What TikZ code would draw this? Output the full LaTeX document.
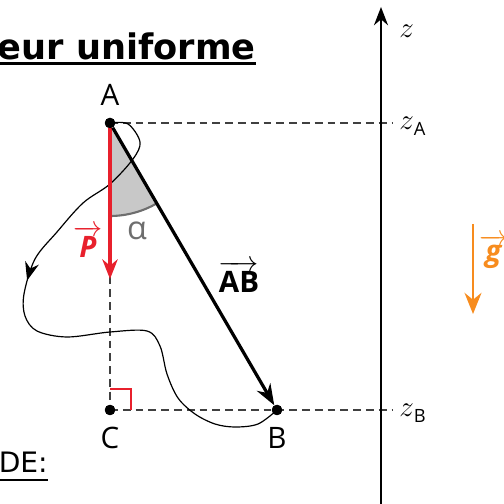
\documentclass[tikz,border=0pt]{standalone}
\usepackage{amsmath}
\usepackage{fontspec}
\setmainfont{Open Sans}
\newfontfamily\titlefont{DejaVu Sans}
\usepackage{xcolor}
\usepackage{tikz}
\usetikzlibrary{arrows.meta,positioning,decorations.markings}

\definecolor{vecred}{RGB}{232,32,44}
\definecolor{gorange}{RGB}{247,140,30}
\definecolor{sectgrey}{RGB}{200,200,200}
\definecolor{arcgrey}{RGB}{110,110,110}

\begin{document}
\begin{tikzpicture}[
    x=0.025cm, y=0.025cm,
    node distance=8pt,
    pt/.style={circle, fill=black, inner sep=0pt, minimum size=7.4pt},
    lbl/.style={inner sep=0pt, font=\fontsize{21}{25}\selectfont},
    veclbl/.style={inner sep=0pt, anchor=base, font=\fontsize{21}{25}\selectfont},
    zlbl/.style={inner sep=0pt, anchor=west, font=\fontsize{22}{26}\selectfont},
    dsh/.style={dash pattern=on 5.6pt off 3.5pt, line width=0.8pt, draw=black!75},
    vecAB/.style={-{Stealth[length=15pt, width=11pt]}, line width=2.3pt},
    vecP/.style={-{Stealth[length=14pt, width=11pt]}, line width=2.2pt, draw=vecred},
    vecg/.style={-{Stealth[length=15pt, width=12pt]}, line width=2pt, draw=gorange},
    axis/.style={-{Stealth[length=13pt, width=10pt]}, line width=1pt},
    traj/.style={line width=0.85pt, postaction={decorate},
        decoration={markings, mark=at position 0.385 with {\arrow{Stealth[length=13pt, width=10pt]}}}},
    sector/.style={fill=sectgrey},
    arcln/.style={line width=1.5pt, draw=arcgrey},
    rangle/.style={line width=0.9pt, draw=vecred},
    ttl/.style={inner sep=0pt, font=\titlefont\bfseries\fontsize{25}{30}\selectfont},
    leg/.style={inner sep=0pt, font=\titlefont\fontsize{20}{24}\selectfont}
]
    \useasboundingbox (0,0) rectangle (504,504);

    % points
    \node [pt] (A) at (110,381) {};
    \node [pt] (C) at (110,94) {};
    \node [pt] (B) at (277,94) {};
    \coordinate (Ptip) at (110,225);
    \coordinate (zAend) at (393,381);
    \coordinate (zBend) at (393,94);
    \coordinate (ax0) at (381,-5);
    \coordinate (ax1) at (381,497);
    \coordinate (g0) at (473,280);
    \coordinate (g1) at (473,190);

    % angle alpha
    \fill [sector] (A.center) -- ++(-90:93) arc [start angle=-90, end angle=-59.8, radius=93] -- cycle;
    \draw [arcln] ([shift={(-90:93)}]A.center) arc [start angle=-90, end angle=-59.8, radius=93];

    % dashed lines
    \draw [dsh] (A.center) -- (C.center);
    \draw [dsh] (A.center) -- (zAend);
    \draw [dsh] (C.center) -- (zBend);
    \draw [rangle] ([yshift=15pt]C.center) -| ([xshift=15pt]C.center);

    % trajectory
    \draw [traj] plot [smooth, tension=0.55] coordinates {(A.center) (128,380) (140,362) (133,345) (110,320) (83,301) (57,272) (35,245) (24,210) (25,188) (37,173) (67,167) (110,172) (147,173) (160,158) (167,130) (178,106) (195,90) (215,80) (235,77) (258,80) (B.center)};

    % vectors
    \draw [vecP] (A.center) -- (Ptip);
    \draw [vecAB] (A) -- (B);
    \draw [axis] (ax0) -- (ax1);
    \draw [vecg] (g0) -- (g1);

    % dots on top
    \node [pt] at (A) {};
    \node [pt] at (C) {};
    \node [pt] at (B) {};

    % labels
    \node [lbl, above=of A] (labA) {A};
    \node [lbl, below=of C] (labC) {C};
    \node [lbl, below=of B] (labB) {B};
    \node [veclbl, text=vecred] (labP) at (88,246) {$\overrightarrow{\textbf{\textit{P}}}$};
    \node [veclbl] (labAB) at (239,211) {$\overrightarrow{\textbf{AB}}$};
    \node [veclbl, text=gorange] (labg) at (494,242) {$\overrightarrow{\textbf{\textit{g}}}$};
    \node [lbl, text=arcgrey, font=\fontsize{23}{27}\selectfont] (alpha) at (137,273) {α};
    \node [zlbl] (zax) at (399,473) {$z$};
    \node [zlbl] (zA) at (399,378) {$z$\raisebox{-4pt}{\fontsize{13}{15}\selectfont A}};
    \node [zlbl] (zB) at (399,91) {$z$\raisebox{-4pt}{\fontsize{13}{15}\selectfont B}};

    % texts cut by the frame
    \node [ttl, anchor=base east] (title) at (256,444) {eur uniforme};
    \draw [line width=2.1pt] ([xshift=-30pt, yshift=-2.6pt]title.base west) -- ([yshift=-2.6pt]title.base east);
    \node [leg, anchor=base east] (legend) at (48,31) {DE:};
    \draw [line width=1.1pt] ([xshift=-30pt, yshift=-5pt]legend.base west) -- ([yshift=-5pt]legend.base east);
\end{tikzpicture}
\end{document}
